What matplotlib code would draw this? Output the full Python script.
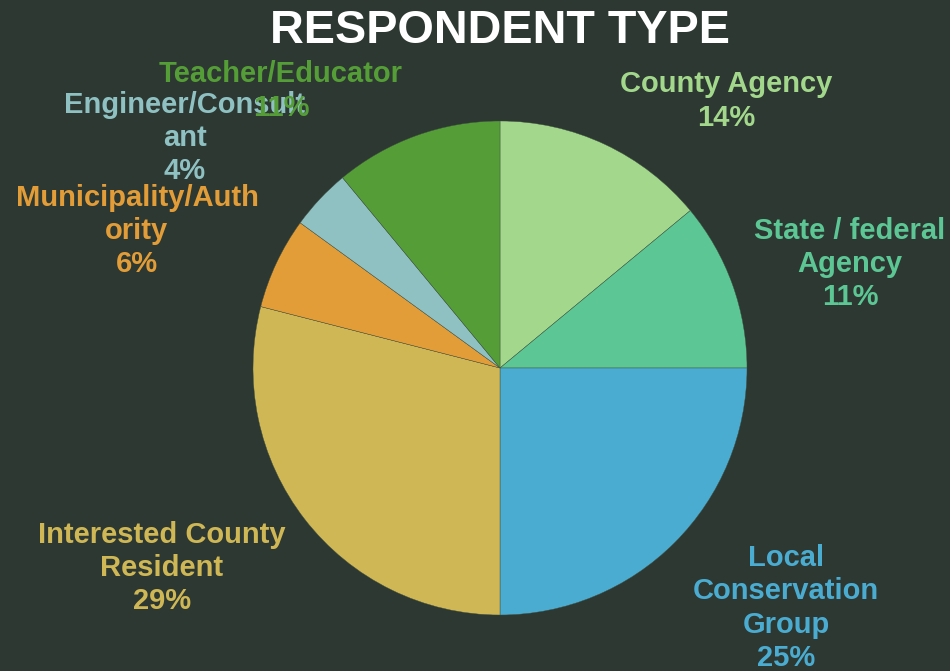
import matplotlib.pyplot as plt

categories = ['County Agency', 'State / federal\nAgency', 'Local\nConservation\nGroup',
              'Interested County\nResident', 'Municipality/Auth\nority',
              'Engineer/Consult\nant', 'Teacher/Educator']
shares = [14, 11, 25, 29, 6, 4, 11]
colors = ['#A3D88C', '#5CC795', '#4BACD1', '#CFB755', '#E29D38', '#8FC1C3', '#559E37']

# label centres in pixels (x, y from top)
label_pos = [(726, 101), (850, 264), (786, 608), (162, 568),
             (137, 231), (185, 138), (281, 91)]

W, H = 950, 671
bg = '#2C3831'

fig = plt.figure(figsize=(W / 100, H / 100), dpi=100, facecolor=bg)
plt.rcParams['font.family'] = ['Liberation Sans', 'DejaVu Sans']

cx, cy, r = 500, 368, 247
ax = fig.add_axes([(cx - r) / W, (H - cy - r) / H, 2 * r / W, 2 * r / H])
ax.pie(shares, colors=colors, startangle=90, counterclock=False,
       wedgeprops=dict(edgecolor='#3f5040', linewidth=0.3))
ax.set_xlim(-1, 1)
ax.set_ylim(-1, 1)
ax.set_aspect('equal')

for name, val, col, (x, y) in zip(categories, shares, colors, label_pos):
    fig.text(x / W, 1 - y / H, f'{name}\n{val}%', color=col, fontsize=21,
             fontweight='bold', ha='center', va='center', linespacing=1.23)

fig.text(500 / W, 1 - 31 / H, 'RESPONDENT TYPE', color='white', fontsize=33.7,
         fontweight='bold', ha='center', va='center')

fig.savefig('out.png', dpi=100, facecolor=bg)
